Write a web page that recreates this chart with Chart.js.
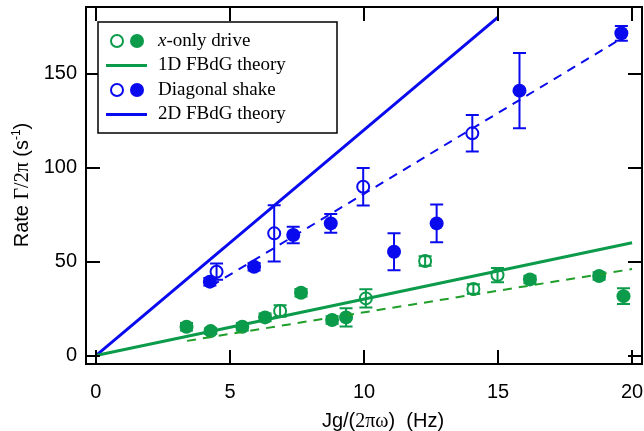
<!DOCTYPE html>
<html>
<head>
<meta charset="utf-8">
<script src="https://cdn.jsdelivr.net/npm/chart.js@4"></script>
<style>
  html, body { margin: 0; padding: 0; background: #fff; }
  #wrap { width: 644px; height: 431px; position: relative; }
</style>
</head>
<body>
<div id="wrap"><canvas id="rateChart"></canvas></div>
<script>
// measured decay rates, Hz
const xonlyFilledX = [3.38, 4.28, 5.46, 6.31, 7.65, 8.81, 9.33, 16.19, 18.77, 19.68];
const xonlyFilledY = [15.3, 13.0, 15.3, 20.3, 33.4, 18.9, 20.3, 40.5, 42.3, 31.6];
const xonlyFilledErr = [2, 1.5, 2, 2, 2, 2, 4.9, 2, 2, 4.2];

const xonlyOpenX = [6.87, 10.07, 12.28, 14.08, 14.98];
const xonlyOpenY = [23.7, 30.4, 50.3, 35.4, 42.8];
const xonlyOpenErr = [3, 4.8, 2.5, 2.5, 3.8];

const diagFilledX = [4.25, 5.9, 7.36, 8.76, 11.12, 12.71, 15.8, 19.6];
const diagFilledY = [39.3, 47.2, 64.1, 70.3, 55.2, 70.3, 140.9, 171.4];
const diagFilledErr = [2, 2, 4.4, 5, 9.8, 10, 20, 3.9];

const diagOpenX = [4.5, 6.65, 9.97, 14.04];
const diagOpenY = [44.6, 65.0, 89.8, 118.2];
const diagOpenErr = [4.3, 15, 10, 9.7];

// theory lines and linear fits (end points)
const theory1dX = [0, 20];
const theory1dY = [0, 60];
const theory2dX = [0, 15];
const theory2dY = [0, 180];
const fit1dX = [3.4, 20];
const fit1dY = [7.8, 46];
const fit2dX = [4.3, 19.6];
const fit2dY = [37, 168.6];

const xTicks = [0, 5, 10, 15, 20];
const yTicks = [0, 50, 100, 150];

const GREEN = '#0b9b4b';
const GREEN_FIT = '#1f9e2a';
const BLUE = '#0a0aee';
const SANS = '"Liberation Sans", Arial, sans-serif';
const SERIF = '"Liberation Serif", "Times New Roman", serif';

const zip = (xs, ys) => xs.map((v, i) => ({ x: v, y: ys[i] }));

const markerSet = (xs, ys, errs, color, open) => ({
  data: zip(xs, ys),
  errorBars: errs,
  showLine: false,
  pointStyle: 'circle',
  pointRadius: open ? 6 : 7,
  pointBorderWidth: open ? 2 : 0,
  pointBorderColor: color,
  pointBackgroundColor: open ? 'rgba(0,0,0,0)' : color,
  borderColor: color,
  backgroundColor: color,
});

const lineSet = (xs, ys, color, dashed) => ({
  data: zip(xs, ys),
  showLine: true,
  pointRadius: 0,
  borderColor: color,
  borderWidth: dashed ? 2 : 3,
  borderDash: dashed ? [9, 7] : [],
  fill: false,
});

// scales should not reserve room for label overflow
const noPad = (s) => {
  s.paddingTop = 0; s.paddingBottom = 0;
  s.paddingLeft = 0; s.paddingRight = 0;
};

// vertical error bars with caps, drawn through the scales
const errorBarPlugin = {
  id: 'errorBars',
  afterDatasetsDraw(chart) {
    const { ctx, scales: { x, y } } = chart;
    ctx.save();
    ctx.lineWidth = 2;
    chart.data.datasets.forEach((ds) => {
      if (!ds.errorBars) return;
      ctx.strokeStyle = ds.borderColor;
      ds.data.forEach((p, i) => {
        const e = ds.errorBars[i];
        if (!e) return;
        const px = x.getPixelForValue(p.x);
        const top = y.getPixelForValue(p.y + e);
        const bot = y.getPixelForValue(p.y - e);
        ctx.beginPath();
        ctx.moveTo(px, top); ctx.lineTo(px, bot);
        ctx.moveTo(px - 6.5, top); ctx.lineTo(px + 6.5, top);
        ctx.moveTo(px - 6.5, bot); ctx.lineTo(px + 6.5, bot);
        ctx.stroke();
      });
    });
    ctx.restore();
  },
};

// closed frame with inward ticks on all four sides
const framePlugin = {
  id: 'frame',
  afterDraw(chart) {
    const { ctx, chartArea: a, scales: { x, y } } = chart;
    ctx.save();
    ctx.strokeStyle = '#000';
    ctx.lineWidth = 2;
    ctx.beginPath();
    xTicks.forEach((v) => {
      const px = Math.round(x.getPixelForValue(v));
      ctx.moveTo(px, a.bottom); ctx.lineTo(px, a.bottom - 14);
      ctx.moveTo(px, a.top); ctx.lineTo(px, a.top + 14);
    });
    yTicks.forEach((v) => {
      const py = Math.round(y.getPixelForValue(v));
      ctx.moveTo(a.left, py); ctx.lineTo(a.left + 14, py);
      ctx.moveTo(a.right, py); ctx.lineTo(a.right - 14, py);
    });
    ctx.stroke();
    ctx.strokeRect(a.left, a.top, a.right - a.left, a.bottom - a.top);
    ctx.restore();
  },
};

// boxed legend plus the axis titles, which mix sans and serif glyphs
const legendPlugin = {
  id: 'boxLegend',
  afterDraw(chart) {
    const { ctx } = chart;
    ctx.save();
    const bx = 98, by = 22, bw = 239, bh = 111;
    ctx.fillStyle = '#fff';
    ctx.fillRect(bx, by, bw, bh);
    ctx.strokeStyle = '#000';
    ctx.lineWidth = 1.5;
    ctx.strokeRect(bx, by, bw, bh);

    const rows = [
      { kind: 'pts', color: GREEN, label: [['x', 'italic'], ['-only drive', 'normal']] },
      { kind: 'line', color: GREEN, label: [['1D FBdG theory', 'normal']] },
      { kind: 'pts', color: BLUE, label: [['Diagonal shake', 'normal']] },
      { kind: 'line', color: BLUE, label: [['2D FBdG theory', 'normal']] },
    ];
    rows.forEach((r, i) => {
      const cy = 41 + i * 24.5;
      if (r.kind === 'pts') {
        ctx.lineWidth = 2;
        ctx.strokeStyle = r.color;
        ctx.beginPath(); ctx.arc(117, cy, 6, 0, Math.PI * 2); ctx.stroke();
        ctx.fillStyle = r.color;
        ctx.beginPath(); ctx.arc(137, cy, 7, 0, Math.PI * 2); ctx.fill();
      } else {
        ctx.lineWidth = 3;
        ctx.strokeStyle = r.color;
        ctx.beginPath(); ctx.moveTo(106, cy); ctx.lineTo(147, cy); ctx.stroke();
      }
      ctx.fillStyle = '#000';
      ctx.textBaseline = 'middle';
      let tx = 158;
      r.label.forEach(([txt, style]) => {
        ctx.font = `${style} 19px ${SERIF}`;
        ctx.fillText(txt, tx, cy);
        tx += ctx.measureText(txt).width;
      });
    });

    // x title
    const xParts = [['Jg/(', SANS], ['2πω', SERIF], [')  (Hz)', SANS]];
    ctx.fillStyle = '#000';
    ctx.textBaseline = 'alphabetic';
    let w = 0;
    xParts.forEach(([t, f]) => { ctx.font = `20px ${f}`; w += ctx.measureText(t).width; });
    let x0 = 383 - w / 2;
    xParts.forEach(([t, f]) => {
      ctx.font = `20px ${f}`;
      ctx.fillText(t, x0, 427);
      x0 += ctx.measureText(t).width;
    });

    // y title, rotated
    ctx.translate(28, 185);
    ctx.rotate(-Math.PI / 2);
    const yParts = [['Rate ', SANS, 20, 0], ['Γ/2π', SERIF, 20, 0], [' (s', SANS, 20, 0], ['-1', SANS, 12, -8], [')', SANS, 20, 0]];
    w = 0;
    yParts.forEach(([t, f, s]) => { ctx.font = `${s}px ${f}`; w += ctx.measureText(t).width; });
    let y0 = -w / 2;
    yParts.forEach(([t, f, s, dy]) => {
      ctx.font = `${s}px ${f}`;
      ctx.fillText(t, y0, dy);
      y0 += ctx.measureText(t).width;
    });
    ctx.restore();
  },
};

new Chart(document.getElementById('rateChart'), {
  type: 'scatter',
  data: {
    datasets: [
      lineSet(theory1dX, theory1dY, GREEN, false),
      lineSet(theory2dX, theory2dY, BLUE, false),
      lineSet(fit1dX, fit1dY, GREEN_FIT, true),
      lineSet(fit2dX, fit2dY, BLUE, true),
      markerSet(xonlyFilledX, xonlyFilledY, xonlyFilledErr, GREEN, false),
      markerSet(xonlyOpenX, xonlyOpenY, xonlyOpenErr, GREEN, true),
      markerSet(diagFilledX, diagFilledY, diagFilledErr, BLUE, false),
      markerSet(diagOpenX, diagOpenY, diagOpenErr, BLUE, true),
    ],
  },
  options: {
    responsive: true,
    maintainAspectRatio: false,
    animation: false,
    layout: { autoPadding: false, padding: { top: 7, right: 2, left: 0, bottom: 0 } },
    plugins: { legend: { display: false }, tooltip: { enabled: false } },
    scales: {
      x: {
        type: 'linear',
        min: -0.37,
        max: 20.37,
        afterBuildTicks: (s) => { s.ticks = xTicks.map((v) => ({ value: v })); },
        afterFit: (s) => { s.height = 67; noPad(s); },
        grid: { display: false, drawTicks: false },
        border: { display: false },
        ticks: { color: '#000', padding: 16, maxRotation: 0, font: { family: SANS, size: 20 } },
      },
      y: {
        type: 'linear',
        min: -4.5,
        max: 185.4,
        afterBuildTicks: (s) => { s.ticks = yTicks.map((v) => ({ value: v })); },
        afterFit: (s) => { s.width = 86; noPad(s); },
        grid: { display: false, drawTicks: false },
        border: { display: false },
        ticks: { color: '#000', padding: 9, font: { family: SANS, size: 20 } },
      },
    },
  },
  plugins: [errorBarPlugin, framePlugin, legendPlugin],
});
</script>
</body>
</html>
